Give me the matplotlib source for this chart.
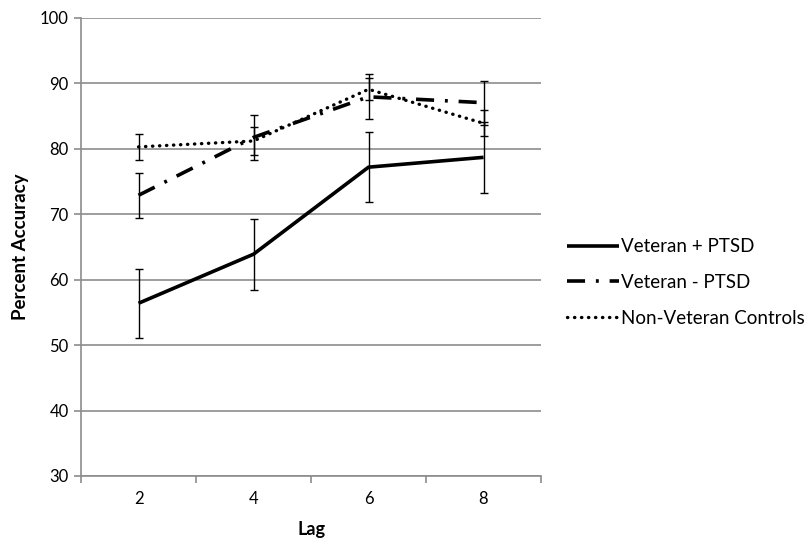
import matplotlib.pyplot as plt

plt.rcParams['font.family'] = ['Lato', 'DejaVu Sans']

lags = ['2', '4', '6', '8']

ptsd = [56.4, 63.9, 77.2, 78.7]
ptsd_err = [5.3, 5.4, 5.4, 5.4]

no_ptsd = [72.9, 81.75, 87.95, 87.05]
no_ptsd_err = [3.4, 3.45, 3.45, 3.35]

controls = [80.3, 81.2, 89.1, 83.9]
controls_err = [2.0, 2.1, 1.7, 2.0]

fig = plt.figure(figsize=(8.12, 5.43), dpi=100)
ax = fig.add_axes([0.0998, 0.1234, 0.5665, 0.8435])

x = list(range(len(lags)))
grey = '#8c8c8c'

ax.errorbar(x, ptsd, yerr=ptsd_err, color='black', lw=2.6, capsize=3.2,
            elinewidth=1, capthick=1, label='Veteran + PTSD',
            solid_capstyle='butt', zorder=3)
ax.errorbar(x, no_ptsd, yerr=no_ptsd_err, color='black', lw=2.6, capsize=3.2,
            elinewidth=1, capthick=1, linestyle=(0, (5, 3, 0.8, 3)),
            label='Veteran - PTSD', zorder=3)
ax.errorbar(x, controls, yerr=controls_err, color='black', lw=2.4, capsize=3.2,
            elinewidth=1, capthick=1, linestyle=(0, (0.1, 2.0)),
            dash_capstyle='round', label='Non-Veteran Controls', zorder=3)

ax.set_xlim(-0.5, 3.5)
ax.set_ylim(30, 100)
ax.set_yticks(range(30, 101, 10))
ax.set_xticks(x)
ax.set_xticklabels(lags)
ax.set_xticks([-0.5, 0.5, 1.5, 2.5, 3.5], minor=True)
ax.tick_params(axis='x', which='major', length=0, pad=11, labelsize=12)
ax.tick_params(axis='x', which='minor', length=5, color=grey, width=1.2)
ax.tick_params(axis='y', length=5, color=grey, width=1.2, labelsize=12, pad=4)

ax.yaxis.grid(True, color=grey, lw=1.2)
ax.set_axisbelow(True)
for s in ['top', 'right']:
    ax.spines[s].set_visible(False)
for s in ['left', 'bottom']:
    ax.spines[s].set_color(grey)
    ax.spines[s].set_linewidth(1.2)

ax.set_xlabel('Lag', fontweight='bold', fontsize=13, labelpad=10)
ax.set_ylabel('Percent Accuracy', fontweight='bold', fontsize=13.5, labelpad=8)

handles, labels = ax.get_legend_handles_labels()
handles = [h[0] for h in handles]
fig.legend(handles, labels, loc='center left', bbox_to_anchor=(0.677, 0.48),
           frameon=False, fontsize=13.5, handlelength=2.8, handletextpad=0.1,
           labelspacing=1.0)

fig.savefig('out.png', dpi=100)
